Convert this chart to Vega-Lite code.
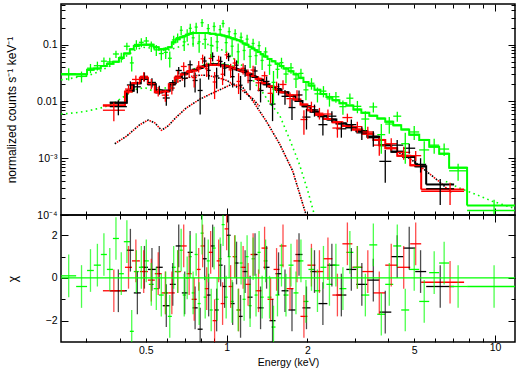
{
"$schema": "https://vega.github.io/schema/vega-lite/v6.json",
"background": "white",
"padding": {"left": 4, "top": 2, "right": 5, "bottom": 5},
"config": {
 "view": {"stroke": "black", "strokeWidth": 1.5},
 "axis": {"domain": false, "grid": false, "labelFont": "Liberation Sans", "labelFontSize": 10.5, "labelColor": "black", "titleFont": "Liberation Sans", "titleFontSize": 10.5, "titleFontWeight": "normal", "titleColor": "black", "tickColor": "black", "tickWidth": 1, "labelOverlap": false, "labelFlush": false, "labelBound": false}
},
"datasets": {
"spec": [
{"d":"b","lo":0.367,"hi":0.425,"e":0.395,"y":0.0081,"yl":0.0057,"yh":0.0105,"m":0.0095,"r":-0.6},
{"d":"b","lo":0.425,"hi":0.451,"e":0.438,"y":0.0195,"yl":0.0164,"yh":0.0226,"m":0.0155,"r":1.3},
{"d":"b","lo":0.451,"hi":0.479,"e":0.465,"y":0.0181,"yl":0.0139,"yh":0.0223,"m":0.021,"r":-0.7},
{"d":"b","lo":0.479,"hi":0.509,"e":0.494,"y":0.0275,"yl":0.0225,"yh":0.0325,"m":0.025,"r":0.5},
{"d":"b","lo":0.509,"hi":0.545,"e":0.527,"y":0.0216,"yl":0.0176,"yh":0.0256,"m":0.020,"r":0.4},
{"d":"b","lo":0.545,"hi":0.578,"e":0.561,"y":0.016,"yl":0.0131,"yh":0.0189,"m":0.0145,"r":0.5},
{"d":"b","lo":0.578,"hi":0.614,"e":0.596,"y":0.0115,"yl":0.0084,"yh":0.0146,"m":0.0155,"r":-1.3},
{"d":"b","lo":0.614,"hi":0.646,"e":0.630,"y":0.0197,"yl":0.0155,"yh":0.0239,"m":0.021,"r":-0.3},
{"d":"b","lo":0.646,"hi":0.681,"e":0.663,"y":0.0351,"yl":0.0297,"yh":0.0405,"m":0.027,"r":1.5},
{"d":"b","lo":0.681,"hi":0.716,"e":0.698,"y":0.0256,"yl":0.0178,"yh":0.0334,"m":0.031,"r":-0.7},
{"d":"b","lo":0.716,"hi":0.747,"e":0.731,"y":0.0442,"yl":0.0357,"yh":0.0527,"m":0.034,"r":1.2},
{"d":"b","lo":0.747,"hi":0.780,"e":0.763,"y":0.0234,"yl":0.0144,"yh":0.0324,"m":0.036,"r":-1.4},
{"d":"b","lo":0.780,"hi":0.814,"e":0.797,"y":0.0156,"yl":0.0059,"yh":0.0254,"m":0.039,"r":-2.4},
{"d":"b","lo":0.814,"hi":0.843,"e":0.828,"y":0.0515,"yl":0.041,"yh":0.062,"m":0.042,"r":0.9},
{"d":"b","lo":0.843,"hi":0.872,"e":0.857,"y":0.0352,"yl":0.0242,"yh":0.0462,"m":0.044,"r":-0.8},
{"d":"b","lo":0.872,"hi":0.903,"e":0.887,"y":0.0619,"yl":0.0506,"yh":0.0732,"m":0.045,"r":1.5},
{"d":"b","lo":0.903,"hi":0.934,"e":0.918,"y":0.0281,"yl":0.0168,"yh":0.0394,"m":0.045,"r":-1.5},
{"d":"b","lo":0.934,"hi":0.966,"e":0.950,"y":0.0506,"yl":0.0396,"yh":0.0616,"m":0.044,"r":0.6},
{"d":"b","lo":0.966,"hi":1.0,"e":0.983,"y":0.0387,"yl":0.0279,"yh":0.0495,"m":0.043,"r":-0.4},
{"d":"b","lo":1.0,"hi":1.035,"e":1.017,"y":0.0615,"yl":0.0512,"yh":0.0718,"m":0.041,"r":2.0},
{"d":"b","lo":1.035,"hi":1.071,"e":1.053,"y":0.0273,"yl":0.0176,"yh":0.0371,"m":0.039,"r":-1.2},
{"d":"b","lo":1.071,"hi":1.108,"e":1.089,"y":0.0435,"yl":0.0342,"yh":0.0528,"m":0.037,"r":0.7},
{"d":"b","lo":1.108,"hi":1.147,"e":1.127,"y":0.0193,"yl":0.0106,"yh":0.0281,"m":0.035,"r":-1.8},
{"d":"b","lo":1.147,"hi":1.197,"e":1.172,"y":0.0355,"yl":0.0272,"yh":0.0438,"m":0.033,"r":0.3},
{"d":"b","lo":1.197,"hi":1.249,"e":1.223,"y":0.0233,"yl":0.0158,"yh":0.0308,"m":0.030,"r":-0.9},
{"d":"b","lo":1.249,"hi":1.304,"e":1.276,"y":0.0344,"yl":0.0276,"yh":0.0412,"m":0.027,"r":1.1},
{"d":"b","lo":1.304,"hi":1.373,"e":1.338,"y":0.0156,"yl":0.0096,"yh":0.0216,"m":0.024,"r":-1.4},
{"d":"b","lo":1.373,"hi":1.445,"e":1.409,"y":0.0225,"yl":0.0175,"yh":0.0275,"m":0.020,"r":0.5},
{"d":"b","lo":1.445,"hi":1.521,"e":1.483,"y":0.009,"yl":0.0045,"yh":0.0135,"m":0.018,"r":-2.0},
{"d":"b","lo":1.521,"hi":1.602,"e":1.561,"y":0.0168,"yl":0.0128,"yh":0.0208,"m":0.016,"r":0.2},
{"d":"b","lo":1.602,"hi":1.700,"e":1.650,"y":0.0123,"yl":0.0087,"yh":0.0159,"m":0.0145,"r":-0.6},
{"d":"b","lo":1.700,"hi":1.805,"e":1.752,"y":0.0078,"yl":0.0047,"yh":0.0109,"m":0.0125,"r":-1.5},
{"d":"b","lo":1.805,"hi":1.917,"e":1.861,"y":0.013,"yl":0.0104,"yh":0.0156,"m":0.0102,"r":1.1},
{"d":"b","lo":1.917,"hi":2.053,"e":1.984,"y":0.0053,"yl":0.0032,"yh":0.0074,"m":0.0082,"r":-1.4},
{"d":"b","lo":2.053,"hi":2.198,"e":2.125,"y":0.0071,"yl":0.0054,"yh":0.0088,"m":0.0066,"r":0.3},
{"d":"b","lo":2.198,"hi":2.374,"e":2.284,"y":0.0039,"yl":0.0025,"yh":0.0053,"m":0.0055,"r":-1.2},
{"d":"b","lo":2.374,"hi":2.564,"e":2.467,"y":0.0055,"yl":0.0043,"yh":0.0067,"m":0.0048,"r":0.6},
{"d":"b","lo":2.564,"hi":2.793,"e":2.676,"y":0.0033,"yl":0.0023,"yh":0.0043,"m":0.0041,"r":-0.8},
{"d":"b","lo":2.793,"hi":3.043,"e":2.915,"y":0.0039,"yl":0.0030,"yh":0.0048,"m":0.0035,"r":0.4},
{"d":"b","lo":3.043,"hi":3.343,"e":3.19,"y":0.0028,"yl":0.0021,"yh":0.0036,"m":0.0030,"r":-0.3},
{"d":"b","lo":3.343,"hi":3.706,"e":3.52,"y":0.0023,"yl":0.0016,"yh":0.0030,"m":0.0024,"r":-0.1},
{"d":"b","lo":3.706,"hi":4.107,"e":3.90,"y":0.00088,"yl":0.00037,"yh":0.00139,"m":0.0017,"r":-1.6},
{"d":"b","lo":4.107,"hi":4.550,"e":4.32,"y":0.0017,"yl":0.0013,"yh":0.0021,"m":0.0013,"r":1.0},
{"d":"b","lo":4.550,"hi":5.042,"e":4.79,"y":0.0015,"yl":0.0012,"yh":0.0018,"m":0.00105,"r":1.4},
{"d":"b","lo":5.042,"hi":5.540,"e":5.28,"y":0.00078,"yl":0.00056,"yh":0.001,"m":0.00072,"r":0.3},
{"d":"b","lo":5.540,"hi":7.041,"e":6.25,"y":0.00029,"yl":0.00015,"yh":0.00043,"m":0.000345,"r":-0.4},
{"d":"r","lo":0.346,"hi":0.418,"e":0.380,"y":0.0070,"yl":0.0045,"yh":0.0096,"m":0.0085,"r":-0.6},
{"d":"r","lo":0.418,"hi":0.444,"e":0.431,"y":0.0165,"yl":0.0135,"yh":0.0195,"m":0.015,"r":0.5},
{"d":"r","lo":0.444,"hi":0.475,"e":0.459,"y":0.0244,"yl":0.0202,"yh":0.0286,"m":0.021,"r":0.8},
{"d":"r","lo":0.475,"hi":0.509,"e":0.491,"y":0.0276,"yl":0.0224,"yh":0.0328,"m":0.026,"r":0.3},
{"d":"r","lo":0.509,"hi":0.540,"e":0.524,"y":0.0206,"yl":0.0164,"yh":0.0248,"m":0.021,"r":-0.1},
{"d":"r","lo":0.540,"hi":0.573,"e":0.556,"y":0.0151,"yl":0.0122,"yh":0.018,"m":0.0145,"r":0.2},
{"d":"r","lo":0.573,"hi":0.609,"e":0.591,"y":0.0129,"yl":0.0099,"yh":0.0159,"m":0.015,"r":-0.7},
{"d":"r","lo":0.609,"hi":0.641,"e":0.625,"y":0.0172,"yl":0.0132,"yh":0.0212,"m":0.020,"r":-0.7},
{"d":"r","lo":0.641,"hi":0.675,"e":0.658,"y":0.028,"yl":0.0215,"yh":0.0345,"m":0.026,"r":0.3},
{"d":"r","lo":0.675,"hi":0.710,"e":0.692,"y":0.0413,"yl":0.0338,"yh":0.0488,"m":0.030,"r":1.5},
{"d":"r","lo":0.710,"hi":0.741,"e":0.725,"y":0.0347,"yl":0.0265,"yh":0.043,"m":0.033,"r":0.2},
{"d":"r","lo":0.741,"hi":0.774,"e":0.757,"y":0.0263,"yl":0.0176,"yh":0.0351,"m":0.035,"r":-1.0},
{"d":"r","lo":0.774,"hi":0.800,"e":0.787,"y":0.0418,"yl":0.0323,"yh":0.0513,"m":0.038,"r":0.4},
{"d":"r","lo":0.800,"hi":0.829,"e":0.814,"y":0.0564,"yl":0.0462,"yh":0.0667,"m":0.041,"r":1.5},
{"d":"r","lo":0.829,"hi":0.857,"e":0.843,"y":0.0376,"yl":0.0269,"yh":0.0484,"m":0.043,"r":-0.5},
{"d":"r","lo":0.857,"hi":0.887,"e":0.872,"y":0.0572,"yl":0.0462,"yh":0.0682,"m":0.044,"r":1.2},
{"d":"r","lo":0.887,"hi":0.918,"e":0.902,"y":0.022,"yl":0.011,"yh":0.033,"m":0.044,"r":-2.0},
{"d":"r","lo":0.918,"hi":0.950,"e":0.934,"y":0.0528,"yl":0.0418,"yh":0.0638,"m":0.044,"r":0.8},
{"d":"r","lo":0.950,"hi":0.983,"e":0.966,"y":0.0301,"yl":0.0194,"yh":0.0409,"m":0.043,"r":-1.2},
{"d":"r","lo":0.983,"hi":1.017,"e":1.0,"y":0.0662,"yl":0.0557,"yh":0.0767,"m":0.042,"r":2.3},
{"d":"r","lo":1.017,"hi":1.053,"e":1.035,"y":0.036,"yl":0.026,"yh":0.046,"m":0.040,"r":-0.4},
{"d":"r","lo":1.053,"hi":1.089,"e":1.071,"y":0.0475,"yl":0.038,"yh":0.057,"m":0.038,"r":1.0},
{"d":"r","lo":1.089,"hi":1.127,"e":1.108,"y":0.0225,"yl":0.0135,"yh":0.0315,"m":0.036,"r":-1.5},
{"d":"r","lo":1.127,"hi":1.177,"e":1.152,"y":0.0383,"yl":0.0298,"yh":0.0468,"m":0.034,"r":0.5},
{"d":"r","lo":1.177,"hi":1.228,"e":1.202,"y":0.0287,"yl":0.021,"yh":0.0365,"m":0.031,"r":-0.3},
{"d":"r","lo":1.228,"hi":1.282,"e":1.255,"y":0.0357,"yl":0.0287,"yh":0.0427,"m":0.028,"r":1.1},
{"d":"r","lo":1.282,"hi":1.349,"e":1.315,"y":0.0213,"yl":0.0151,"yh":0.0276,"m":0.025,"r":-0.6},
{"d":"r","lo":1.349,"hi":1.421,"e":1.385,"y":0.0284,"yl":0.0232,"yh":0.0337,"m":0.021,"r":1.4},
{"d":"r","lo":1.421,"hi":1.496,"e":1.458,"y":0.0139,"yl":0.0093,"yh":0.0185,"m":0.0185,"r":-1.0},
{"d":"r","lo":1.496,"hi":1.574,"e":1.535,"y":0.0182,"yl":0.0141,"yh":0.0223,"m":0.0165,"r":0.4},
{"d":"r","lo":1.574,"hi":1.671,"e":1.622,"y":0.0199,"yl":0.0163,"yh":0.0235,"m":0.0145,"r":1.5},
{"d":"r","lo":1.671,"hi":1.775,"e":1.723,"y":0.0112,"yl":0.008,"yh":0.0144,"m":0.0128,"r":-0.5},
{"d":"r","lo":1.775,"hi":1.884,"e":1.829,"y":0.013,"yl":0.0103,"yh":0.0157,"m":0.0108,"r":0.8},
{"d":"r","lo":1.884,"hi":2.000,"e":1.941,"y":0.0048,"yl":0.0026,"yh":0.007,"m":0.0088,"r":-1.8},
{"d":"r","lo":2.000,"hi":2.142,"e":2.07,"y":0.0081,"yl":0.0064,"yh":0.0099,"m":0.007,"r":0.6},
{"d":"r","lo":2.142,"hi":2.294,"e":2.217,"y":0.0062,"yl":0.0048,"yh":0.0077,"m":0.0058,"r":0.3},
{"d":"r","lo":2.294,"hi":2.478,"e":2.385,"y":0.006,"yl":0.0048,"yh":0.0072,"m":0.0049,"r":0.9},
{"d":"r","lo":2.478,"hi":2.700,"e":2.587,"y":0.0034,"yl":0.0023,"yh":0.0045,"m":0.0043,"r":-0.8},
{"d":"r","lo":2.700,"hi":2.941,"e":2.818,"y":0.0052,"yl":0.0043,"yh":0.0061,"m":0.0037,"r":1.6},
{"d":"r","lo":2.941,"hi":3.203,"e":3.069,"y":0.0036,"yl":0.0028,"yh":0.0044,"m":0.0032,"r":0.5},
{"d":"r","lo":3.203,"hi":3.520,"e":3.358,"y":0.0029,"yl":0.0022,"yh":0.0036,"m":0.0027,"r":0.3},
{"d":"r","lo":3.520,"hi":3.900,"e":3.705,"y":0.0017,"yl":0.0011,"yh":0.0023,"m":0.0021,"r":-0.7},
{"d":"r","lo":3.900,"hi":4.321,"e":4.105,"y":0.0018,"yl":0.00135,"yh":0.00225,"m":0.0015,"r":0.6},
{"d":"r","lo":4.321,"hi":4.831,"e":4.569,"y":0.00127,"yl":0.00094,"yh":0.0016,"m":0.0011,"r":0.5},
{"d":"r","lo":4.831,"hi":5.308,"e":5.064,"y":0.00111,"yl":0.00089,"yh":0.00134,"m":0.00075,"r":1.6},
{"d":"r","lo":5.308,"hi":7.670,"e":6.8,"y":0.00026,"yl":0.00015,"yh":0.00037,"m":0.00028,"r":-0.2},
{"d":"g","lo":0.242,"hi":0.275,"e":0.258,"y":0.0308,"yl":0.0233,"yh":0.0383,"m":0.030,"r":0.1},
{"d":"g","lo":0.275,"hi":0.302,"e":0.288,"y":0.0276,"yl":0.0216,"yh":0.0336,"m":0.030,"r":-0.4},
{"d":"g","lo":0.302,"hi":0.320,"e":0.311,"y":0.0385,"yl":0.0313,"yh":0.0457,"m":0.036,"r":0.35},
{"d":"g","lo":0.320,"hi":0.340,"e":0.330,"y":0.0426,"yl":0.035,"yh":0.0502,"m":0.038,"r":0.6},
{"d":"g","lo":0.340,"hi":0.358,"e":0.349,"y":0.0512,"yl":0.0428,"yh":0.0596,"m":0.042,"r":1.1},
{"d":"g","lo":0.358,"hi":0.377,"e":0.367,"y":0.0497,"yl":0.0405,"yh":0.0589,"m":0.046,"r":0.4},
{"d":"g","lo":0.377,"hi":0.397,"e":0.387,"y":0.0685,"yl":0.0585,"yh":0.0785,"m":0.050,"r":1.85},
{"d":"g","lo":0.397,"hi":0.414,"e":0.405,"y":0.0603,"yl":0.0487,"yh":0.0719,"m":0.058,"r":0.2},
{"d":"g","lo":0.414,"hi":0.436,"e":0.425,"y":0.0938,"yl":0.0798,"yh":0.1078,"m":0.070,"r":1.7},
{"d":"g","lo":0.436,"hi":0.451,"e":0.443,"y":0.0477,"yl":0.0336,"yh":0.0618,"m":0.083,"r":-2.5},
{"d":"g","lo":0.451,"hi":0.471,"e":0.461,"y":0.1007,"yl":0.0817,"yh":0.1197,"m":0.095,"r":0.3},
{"d":"g","lo":0.471,"hi":0.491,"e":0.481,"y":0.110,"yl":0.090,"yh":0.130,"m":0.100,"r":0.5},
{"d":"g","lo":0.491,"hi":0.513,"e":0.502,"y":0.116,"yl":0.096,"yh":0.136,"m":0.100,"r":0.8},
{"d":"g","lo":0.513,"hi":0.535,"e":0.524,"y":0.094,"yl":0.074,"yh":0.114,"m":0.100,"r":-0.3},
{"d":"g","lo":0.535,"hi":0.559,"e":0.547,"y":0.081,"yl":0.063,"yh":0.099,"m":0.090,"r":-0.5},
{"d":"g","lo":0.559,"hi":0.583,"e":0.571,"y":0.0697,"yl":0.0531,"yh":0.0863,"m":0.083,"r":-0.8},
{"d":"g","lo":0.583,"hi":0.604,"e":0.593,"y":0.0731,"yl":0.0561,"yh":0.0901,"m":0.085,"r":-0.7},
{"d":"g","lo":0.604,"hi":0.625,"e":0.614,"y":0.0576,"yl":0.0396,"yh":0.0756,"m":0.090,"r":-1.8},
{"d":"g","lo":0.625,"hi":0.646,"e":0.635,"y":0.121,"yl":0.099,"yh":0.143,"m":0.110,"r":0.5},
{"d":"g","lo":0.646,"hi":0.669,"e":0.657,"y":0.1325,"yl":0.1075,"yh":0.1575,"m":0.125,"r":0.3},
{"d":"g","lo":0.669,"hi":0.686,"e":0.677,"y":0.179,"yl":0.145,"yh":0.213,"m":0.135,"r":1.3},
{"d":"g","lo":0.686,"hi":0.704,"e":0.695,"y":0.112,"yl":0.077,"yh":0.147,"m":0.140,"r":-0.8},
{"d":"g","lo":0.704,"hi":0.723,"e":0.713,"y":0.150,"yl":0.1125,"yh":0.1875,"m":0.150,"r":0.0},
{"d":"g","lo":0.723,"hi":0.741,"e":0.732,"y":0.194,"yl":0.155,"yh":0.233,"m":0.155,"r":1.0},
{"d":"g","lo":0.741,"hi":0.760,"e":0.750,"y":0.132,"yl":0.092,"yh":0.172,"m":0.160,"r":-0.7},
{"d":"g","lo":0.760,"hi":0.780,"e":0.770,"y":0.204,"yl":0.164,"yh":0.244,"m":0.160,"r":1.1},
{"d":"g","lo":0.780,"hi":0.800,"e":0.790,"y":0.112,"yl":0.072,"yh":0.152,"m":0.160,"r":-1.2},
{"d":"g","lo":0.800,"hi":0.821,"e":0.810,"y":0.244,"yl":0.204,"yh":0.284,"m":0.160,"r":2.1},
{"d":"g","lo":0.821,"hi":0.843,"e":0.832,"y":0.124,"yl":0.084,"yh":0.164,"m":0.160,"r":-0.9},
{"d":"g","lo":0.843,"hi":0.865,"e":0.854,"y":0.192,"yl":0.152,"yh":0.232,"m":0.160,"r":0.8},
{"d":"g","lo":0.865,"hi":0.887,"e":0.876,"y":0.097,"yl":0.058,"yh":0.136,"m":0.155,"r":-1.5},
{"d":"g","lo":0.887,"hi":0.910,"e":0.898,"y":0.209,"yl":0.170,"yh":0.248,"m":0.155,"r":1.4},
{"d":"g","lo":0.910,"hi":0.934,"e":0.922,"y":0.1125,"yl":0.075,"yh":0.150,"m":0.150,"r":-1.0},
{"d":"g","lo":0.934,"hi":0.958,"e":0.946,"y":0.184,"yl":0.1465,"yh":0.2215,"m":0.150,"r":0.9},
{"d":"g","lo":0.958,"hi":0.983,"e":0.970,"y":0.236,"yl":0.200,"yh":0.272,"m":0.145,"r":2.5},
{"d":"g","lo":0.983,"hi":1.009,"e":0.996,"y":0.1085,"yl":0.0735,"yh":0.1435,"m":0.140,"r":-0.9},
{"d":"g","lo":1.009,"hi":1.035,"e":1.022,"y":0.169,"yl":0.135,"yh":0.203,"m":0.135,"r":1.0},
{"d":"g","lo":1.035,"hi":1.062,"e":1.048,"y":0.094,"yl":0.0615,"yh":0.1265,"m":0.130,"r":-1.1},
{"d":"g","lo":1.062,"hi":1.090,"e":1.076,"y":0.156,"yl":0.125,"yh":0.187,"m":0.125,"r":1.0},
{"d":"g","lo":1.090,"hi":1.118,"e":1.104,"y":0.075,"yl":0.045,"yh":0.105,"m":0.120,"r":-1.5},
{"d":"g","lo":1.118,"hi":1.147,"e":1.132,"y":0.135,"yl":0.106,"yh":0.164,"m":0.115,"r":0.7},
{"d":"g","lo":1.147,"hi":1.177,"e":1.162,"y":0.079,"yl":0.053,"yh":0.105,"m":0.105,"r":-1.0},
{"d":"g","lo":1.177,"hi":1.207,"e":1.192,"y":0.125,"yl":0.100,"yh":0.150,"m":0.100,"r":1.0},
{"d":"g","lo":1.207,"hi":1.239,"e":1.223,"y":0.062,"yl":0.039,"yh":0.085,"m":0.092,"r":-1.3},
{"d":"g","lo":1.239,"hi":1.271,"e":1.255,"y":0.105,"yl":0.0835,"yh":0.1265,"m":0.086,"r":0.9},
{"d":"g","lo":1.271,"hi":1.304,"e":1.287,"y":0.064,"yl":0.044,"yh":0.084,"m":0.080,"r":-0.8},
{"d":"g","lo":1.304,"hi":1.338,"e":1.321,"y":0.096,"yl":0.0775,"yh":0.1145,"m":0.074,"r":1.2},
{"d":"g","lo":1.338,"hi":1.374,"e":1.356,"y":0.0527,"yl":0.0357,"yh":0.0697,"m":0.068,"r":-0.9},
{"d":"g","lo":1.374,"hi":1.420,"e":1.397,"y":0.0744,"yl":0.0589,"yh":0.0899,"m":0.062,"r":0.8},
{"d":"g","lo":1.420,"hi":1.470,"e":1.445,"y":0.0434,"yl":0.0294,"yh":0.0574,"m":0.056,"r":-0.9},
{"d":"g","lo":1.470,"hi":1.521,"e":1.495,"y":0.0217,"yl":0.0089,"yh":0.0344,"m":0.051,"r":-2.3},
{"d":"g","lo":1.521,"hi":1.574,"e":1.547,"y":0.0368,"yl":0.0253,"yh":0.0483,"m":0.046,"r":-0.8},
{"d":"g","lo":1.574,"hi":1.629,"e":1.601,"y":0.0483,"yl":0.0378,"yh":0.0588,"m":0.042,"r":0.6},
{"d":"g","lo":1.629,"hi":1.700,"e":1.664,"y":0.0304,"yl":0.0209,"yh":0.0399,"m":0.038,"r":-0.8},
{"d":"g","lo":1.700,"hi":1.775,"e":1.737,"y":0.0391,"yl":0.0306,"yh":0.0476,"m":0.034,"r":0.6},
{"d":"g","lo":1.775,"hi":1.852,"e":1.813,"y":0.0248,"yl":0.0173,"yh":0.0323,"m":0.030,"r":-0.7},
{"d":"g","lo":1.852,"hi":1.933,"e":1.892,"y":0.0312,"yl":0.0247,"yh":0.0377,"m":0.026,"r":0.8},
{"d":"g","lo":1.933,"hi":2.018,"e":1.975,"y":0.016,"yl":0.0105,"yh":0.0215,"m":0.022,"r":-1.1},
{"d":"g","lo":2.018,"hi":2.124,"e":2.071,"y":0.0209,"yl":0.0161,"yh":0.0257,"m":0.019,"r":0.4},
{"d":"g","lo":2.124,"hi":2.236,"e":2.180,"y":0.0136,"yl":0.0096,"yh":0.0176,"m":0.016,"r":-0.6},
{"d":"g","lo":2.236,"hi":2.354,"e":2.295,"y":0.0152,"yl":0.0118,"yh":0.0186,"m":0.0135,"r":0.5},
{"d":"g","lo":2.354,"hi":2.478,"e":2.416,"y":0.0111,"yl":0.0081,"yh":0.0141,"m":0.012,"r":-0.3},
{"d":"g","lo":2.478,"hi":2.631,"e":2.554,"y":0.0121,"yl":0.0095,"yh":0.0147,"m":0.0105,"r":0.6},
{"d":"g","lo":2.631,"hi":2.793,"e":2.712,"y":0.0081,"yl":0.0058,"yh":0.0104,"m":0.0093,"r":-0.5},
{"d":"g","lo":2.793,"hi":2.966,"e":2.879,"y":0.0114,"yl":0.009,"yh":0.0138,"m":0.0085,"r":1.2},
{"d":"g","lo":2.966,"hi":3.176,"e":3.071,"y":0.0082,"yl":0.0062,"yh":0.0102,"m":0.0072,"r":0.5},
{"d":"g","lo":3.176,"hi":3.401,"e":3.288,"y":0.0049,"yl":0.0031,"yh":0.0067,"m":0.0063,"r":-0.8},
{"d":"g","lo":3.401,"hi":3.641,"e":3.521,"y":0.0080,"yl":0.0064,"yh":0.0096,"m":0.0056,"r":1.55},
{"d":"g","lo":3.641,"hi":3.899,"e":3.770,"y":0.0026,"yl":0.0012,"yh":0.0040,"m":0.0050,"r":-1.7},
{"d":"g","lo":3.899,"hi":4.176,"e":4.037,"y":0.0040,"yl":0.0027,"yh":0.0053,"m":0.0044,"r":-0.3},
{"d":"g","lo":4.176,"hi":4.472,"e":4.324,"y":0.0055,"yl":0.0044,"yh":0.0066,"m":0.0038,"r":1.5},
{"d":"g","lo":4.472,"hi":4.788,"e":4.630,"y":0.0018,"yl":0.0008,"yh":0.0028,"m":0.0032,"r":-1.5},
{"d":"g","lo":4.788,"hi":5.219,"e":5.0,"y":0.0029,"yl":0.0021,"yh":0.0037,"m":0.0026,"r":0.4},
{"d":"g","lo":5.219,"hi":5.686,"e":5.448,"y":0.0014,"yl":0.0008,"yh":0.0020,"m":0.0021,"r":-1.1},
{"d":"g","lo":5.686,"hi":6.192,"e":5.934,"y":0.0017,"yl":0.0012,"yh":0.0022,"m":0.0016,"r":0.25},
{"d":"g","lo":6.192,"hi":6.745,"e":6.463,"y":0.00145,"yl":0.00109,"yh":0.00181,"m":0.0012,"r":0.7},
{"d":"g","lo":6.745,"hi":7.869,"e":7.286,"y":0.0006,"yl":0.0004,"yh":0.0008,"m":0.00068,"r":-0.4},
{"d":"g","lo":7.869,"hi":11.87,"e":9.92,"y":0.00012,"yl":0.000054,"yh":0.000186,"m":0.000147,"r":-0.4}
],
"comp": [
{"k":"A","e":0.383,"v":0.0018},{"k":"A","e":0.424,"v":0.00245},{"k":"A","e":0.475,"v":0.0039},{"k":"A","e":0.510,"v":0.0047},{"k":"A","e":0.540,"v":0.0042},{"k":"A","e":0.572,"v":0.0031},{"k":"A","e":0.605,"v":0.0037},{"k":"A","e":0.650,"v":0.0053},{"k":"A","e":0.708,"v":0.0077},{"k":"A","e":0.794,"v":0.0109},{"k":"A","e":0.865,"v":0.0133},{"k":"A","e":0.969,"v":0.017},{"k":"A","e":1.055,"v":0.0205},{"k":"A","e":1.150,"v":0.0175},{"k":"A","e":1.252,"v":0.0102},{"k":"A","e":1.405,"v":0.0045},{"k":"A","e":1.574,"v":0.0018},{"k":"A","e":1.764,"v":0.00059},{"k":"A","e":1.978,"v":0.0001},{"k":"A","e":2.05,"v":0.00005},
{"k":"B","e":0.641,"v":0.021},{"k":"B","e":0.698,"v":0.025},{"k":"B","e":0.747,"v":0.028},{"k":"B","e":0.794,"v":0.029},{"k":"B","e":0.842,"v":0.029},{"k":"B","e":0.903,"v":0.027},{"k":"B","e":0.958,"v":0.025},{"k":"B","e":1.009,"v":0.023},{"k":"B","e":1.053,"v":0.020},{"k":"B","e":1.147,"v":0.0155},{"k":"B","e":1.249,"v":0.0112},{"k":"B","e":1.326,"v":0.0082},
{"k":"P","e":4.40,"v":0.00125},{"k":"P","e":4.79,"v":0.001},{"k":"P","e":5.22,"v":0.00075},{"k":"P","e":5.54,"v":0.00059},{"k":"P","e":6.19,"v":0.00039},{"k":"P","e":6.87,"v":0.00025},
{"k":"G1","e":0.2415,"v":0.024},{"k":"G1","e":0.256,"v":0.025},{"k":"G1","e":0.284,"v":0.027},{"k":"G1","e":0.309,"v":0.029},{"k":"G1","e":0.337,"v":0.034},{"k":"G1","e":0.367,"v":0.042},{"k":"G1","e":0.400,"v":0.052},{"k":"G1","e":0.425,"v":0.064},{"k":"G1","e":0.455,"v":0.08},{"k":"G1","e":0.487,"v":0.09},{"k":"G1","e":0.526,"v":0.087},{"k":"G1","e":0.564,"v":0.08},{"k":"G1","e":0.604,"v":0.08},{"k":"G1","e":0.646,"v":0.088},{"k":"G1","e":0.704,"v":0.1},{"k":"G1","e":0.780,"v":0.105},{"k":"G1","e":0.865,"v":0.1},{"k":"G1","e":0.942,"v":0.085},{"k":"G1","e":1.009,"v":0.07},{"k":"G1","e":1.071,"v":0.055},{"k":"G1","e":1.147,"v":0.042},{"k":"G1","e":1.218,"v":0.03},{"k":"G1","e":1.293,"v":0.019},{"k":"G1","e":1.361,"v":0.0145},{"k":"G1","e":1.445,"v":0.0095},{"k":"G1","e":1.574,"v":0.0058},{"k":"G1","e":1.714,"v":0.0022},{"k":"G1","e":1.868,"v":0.00078},{"k":"G1","e":2.0,"v":0.00028},{"k":"G1","e":2.124,"v":0.0001},{"k":"G1","e":2.2,"v":0.00006},
{"k":"G2","e":0.2415,"v":0.006},{"k":"G2","e":0.272,"v":0.0063},{"k":"G2","e":0.304,"v":0.0068},{"k":"G2","e":0.352,"v":0.008},{"k":"G2","e":0.383,"v":0.0095},{"k":"G2","e":0.407,"v":0.0116},{"k":"G2","e":0.428,"v":0.0133},{"k":"G2","e":0.461,"v":0.0164},{"k":"G2","e":0.496,"v":0.0175},{"k":"G2","e":0.531,"v":0.0153},{"k":"G2","e":0.564,"v":0.016},{"k":"G2","e":0.598,"v":0.0175},{"k":"G2","e":0.669,"v":0.026},{"k":"G2","e":0.729,"v":0.034},{"k":"G2","e":0.794,"v":0.042},{"k":"G2","e":0.865,"v":0.047},{"k":"G2","e":0.942,"v":0.047},{"k":"G2","e":1.044,"v":0.043},{"k":"G2","e":1.09,"v":0.04},
{"k":"G3","e":6.56,"v":0.00039},{"k":"G3","e":7.34,"v":0.0003},{"k":"G3","e":8.5,"v":0.00023},{"k":"G3","e":9.76,"v":0.000175},{"k":"G3","e":11.87,"v":0.00013}
]
},
"spacing": 0,
"bounds": "flush",
"vconcat": [
{
 "width": 454, "height": 211,
 "resolve": {"axis": {"x": "independent", "y": "independent"}},
 "layer": [
  {"data": {"name": "comp"}, "transform": [{"filter": {"field": "k", "oneOf": ["G1","G2","G3"]}}],
   "mark": {"type": "line", "color": "#00ff00", "strokeWidth": 1.6, "strokeDash": [1.6, 3.4], "clip": true},
   "encoding": {"x": {"field": "e", "type": "quantitative", "scale": {"type": "log", "domain": [0.2415, 11.87], "nice": false}, "axis": null},
    "y": {"field": "v", "type": "quantitative", "scale": {"type": "log", "domain": [0.0001, 0.52], "nice": false}, "axis": null},
    "detail": {"field": "k"}}},
  {"data": {"name": "comp"}, "transform": [{"filter": {"field": "k", "oneOf": ["A","B","P"]}}],
   "mark": {"type": "line", "color": "#000000", "strokeWidth": 1.6, "strokeDash": [1.6, 3.4], "clip": true},
   "encoding": {"x": {"field": "e", "type": "quantitative", "axis": null},
    "y": {"field": "v", "type": "quantitative", "axis": null},
    "detail": {"field": "k"}}},
  {"data": {"name": "comp"}, "transform": [{"filter": {"field": "k", "oneOf": ["A","B","P"]}}],
   "mark": {"type": "line", "color": "#ff0000", "strokeWidth": 1.6, "strokeDash": [1.6, 3.4], "strokeDashOffset": 2.5, "clip": true},
   "encoding": {"x": {"field": "e", "type": "quantitative", "axis": null},
    "y": {"field": "v", "type": "quantitative", "axis": null},
    "detail": {"field": "k"}}},
  {"data": {"name": "spec"},
   "mark": {"type": "line", "interpolate": "step-after", "strokeWidth": 2, "clip": true},
   "encoding": {
    "x": {"field": "lo", "type": "quantitative", "axis": {"orient": "top", "values": [0.3,0.4,0.5,0.6,0.7,0.8,0.9,1,2,3,4,5,6,7,8,9,10], "labels": false, "title": null, "tickSize": {"condition": {"test": "datum.value == 1 || datum.value == 10", "value": -7}, "value": -4}}},
    "y": {"field": "m", "type": "quantitative", "axis": {"orient": "right", "values": [0.0001,0.0002,0.0003,0.0004,0.0005,0.0006,0.0007,0.0008,0.0009,0.001,0.002,0.003,0.004,0.005,0.006,0.007,0.008,0.009,0.01,0.02,0.03,0.04,0.05,0.06,0.07,0.08,0.09,0.1,0.2,0.3,0.4,0.5], "labels": false, "title": null, "tickSize": {"condition": {"test": "datum.value == 0.1 || datum.value == 0.01 || datum.value == 0.001 || datum.value == 0.0001", "value": -7}, "value": -4}}},
    "color": {"field": "d", "type": "nominal", "scale": {"domain": ["b","r","g"], "range": ["#000000","#ff0000","#00ff00"]}, "legend": null}}},
  {"data": {"name": "spec"},
   "mark": {"type": "rule", "strokeWidth": 2, "clip": true},
   "encoding": {
    "x": {"field": "lo", "type": "quantitative", "axis": {"orient": "bottom", "values": [0.3,0.4,0.5,0.6,0.7,0.8,0.9,1,2,3,4,5,6,7,8,9,10], "labels": false, "title": null, "tickSize": {"condition": {"test": "datum.value == 1 || datum.value == 10", "value": -7}, "value": -4}}},
    "x2": {"field": "hi"},
    "y": {"field": "m", "type": "quantitative", "axis": {"orient": "left", "values": [0.0001,0.0002,0.0003,0.0004,0.0005,0.0006,0.0007,0.0008,0.0009,0.001,0.002,0.003,0.004,0.005,0.006,0.007,0.008,0.009,0.01,0.02,0.03,0.04,0.05,0.06,0.07,0.08,0.09,0.1,0.2,0.3,0.4,0.5],
      "labelExpr": "datum.value == 0.1 ? '0.1' : datum.value == 0.01 ? '0.01' : datum.value == 0.001 ? '10⁻³' : datum.value == 0.0001 ? '10⁻⁴' : ''",
      "labelFontSize": {"condition": {"test": "datum.value == 0.1 || datum.value == 0.01 || datum.value == 0.001 || datum.value == 0.0001", "value": 10.5}, "value": 0},
      "tickSize": {"condition": {"test": "datum.value == 0.1 || datum.value == 0.01 || datum.value == 0.001 || datum.value == 0.0001", "value": -7}, "value": -4},
      "labelPadding": 11,
      "title": "normalized counts s⁻¹ keV⁻¹", "titleFontSize": 12, "titleX": -50, "titleY": 105.5, "titleAngle": 270, "titleAlign": "center", "titleBaseline": "middle"}},
    "color": {"field": "d", "type": "nominal", "legend": null}}},
  {"data": {"name": "spec"},
   "mark": {"type": "rule", "strokeWidth": 1.3, "clip": true},
   "encoding": {
    "x": {"field": "lo", "type": "quantitative", "axis": null},
    "x2": {"field": "hi"},
    "y": {"field": "y", "type": "quantitative", "axis": null},
    "color": {"field": "d", "type": "nominal", "legend": null}}},
  {"data": {"name": "spec"},
   "mark": {"type": "rule", "strokeWidth": 1.3, "clip": true},
   "encoding": {
    "x": {"field": "e", "type": "quantitative", "axis": null},
    "y": {"field": "yl", "type": "quantitative", "axis": null},
    "y2": {"field": "yh"},
    "color": {"field": "d", "type": "nominal", "legend": null}}}
 ]
},
{
 "width": 454, "height": 127,
 "resolve": {"axis": {"x": "independent", "y": "independent"}},
 "layer": [
  {"data": {"name": "spec"},
   "mark": {"type": "rule", "strokeWidth": 1.3, "clip": true},
   "encoding": {
    "x": {"field": "lo", "type": "quantitative", "scale": {"type": "log", "domain": [0.2415, 11.87], "nice": false},
      "axis": {"orient": "bottom", "values": [0.3,0.4,0.5,0.6,0.7,0.8,0.9,1,2,3,4,5,6,7,8,9,10], "format": "~g",
       "labelExpr": "datum.value == 0.5 || datum.value == 1 || datum.value == 2 || datum.value == 5 || datum.value == 10 ? datum.label : ''",
       "tickSize": {"condition": {"test": "datum.value == 1 || datum.value == 10", "value": -7}, "value": -4},
       "labelPadding": 7, "title": "Energy (keV)", "titleX": 227, "titleY": 20, "titleAlign": "center", "titleBaseline": "middle"}},
    "x2": {"field": "hi"},
    "y": {"field": "r", "type": "quantitative", "scale": {"domain": [-3.0, 2.95], "nice": false, "zero": false},
      "axis": {"orient": "left", "values": [-2,-1,0,1,2], "format": "d",
       "labelExpr": "datum.value == -2 || datum.value == 0 || datum.value == 2 ? datum.label : ''",
       "tickSize": {"condition": {"test": "datum.value == -2 || datum.value == 0 || datum.value == 2", "value": -7}, "value": -4},
       "labelPadding": 11, "title": "χ", "titleFontSize": 12, "titleX": -49, "titleY": 63.5, "titleAngle": 270, "titleAlign": "center", "titleBaseline": "middle"}},
    "color": {"field": "d", "type": "nominal", "scale": {"domain": ["b","r","g"], "range": ["#000000","#ff0000","#00ff00"]}, "legend": null}}},
  {"data": {"name": "spec"},
   "mark": {"type": "tick", "orient": "vertical", "size": 42.7, "thickness": 1.3, "clip": true},
   "encoding": {
    "x": {"field": "e", "type": "quantitative",
      "axis": {"orient": "top", "values": [0.3,0.4,0.5,0.6,0.7,0.8,0.9,1,2,3,4,5,6,7,8,9,10], "labels": false, "title": null, "tickSize": {"condition": {"test": "datum.value == 1 || datum.value == 10", "value": -7}, "value": -4}}},
    "y": {"field": "r", "type": "quantitative",
      "axis": {"orient": "right", "values": [-2,-1,0,1,2], "labels": false, "title": null, "tickSize": {"condition": {"test": "datum.value == -2 || datum.value == 0 || datum.value == 2", "value": -7}, "value": -4}}},
    "color": {"field": "d", "type": "nominal", "legend": null}}},
  {"data": {"values": [{}]},
   "mark": {"type": "rule", "color": "#00ff00", "strokeWidth": 1.3},
   "encoding": {"y": {"datum": 0, "type": "quantitative", "axis": null}}}
 ]
}
]
}
